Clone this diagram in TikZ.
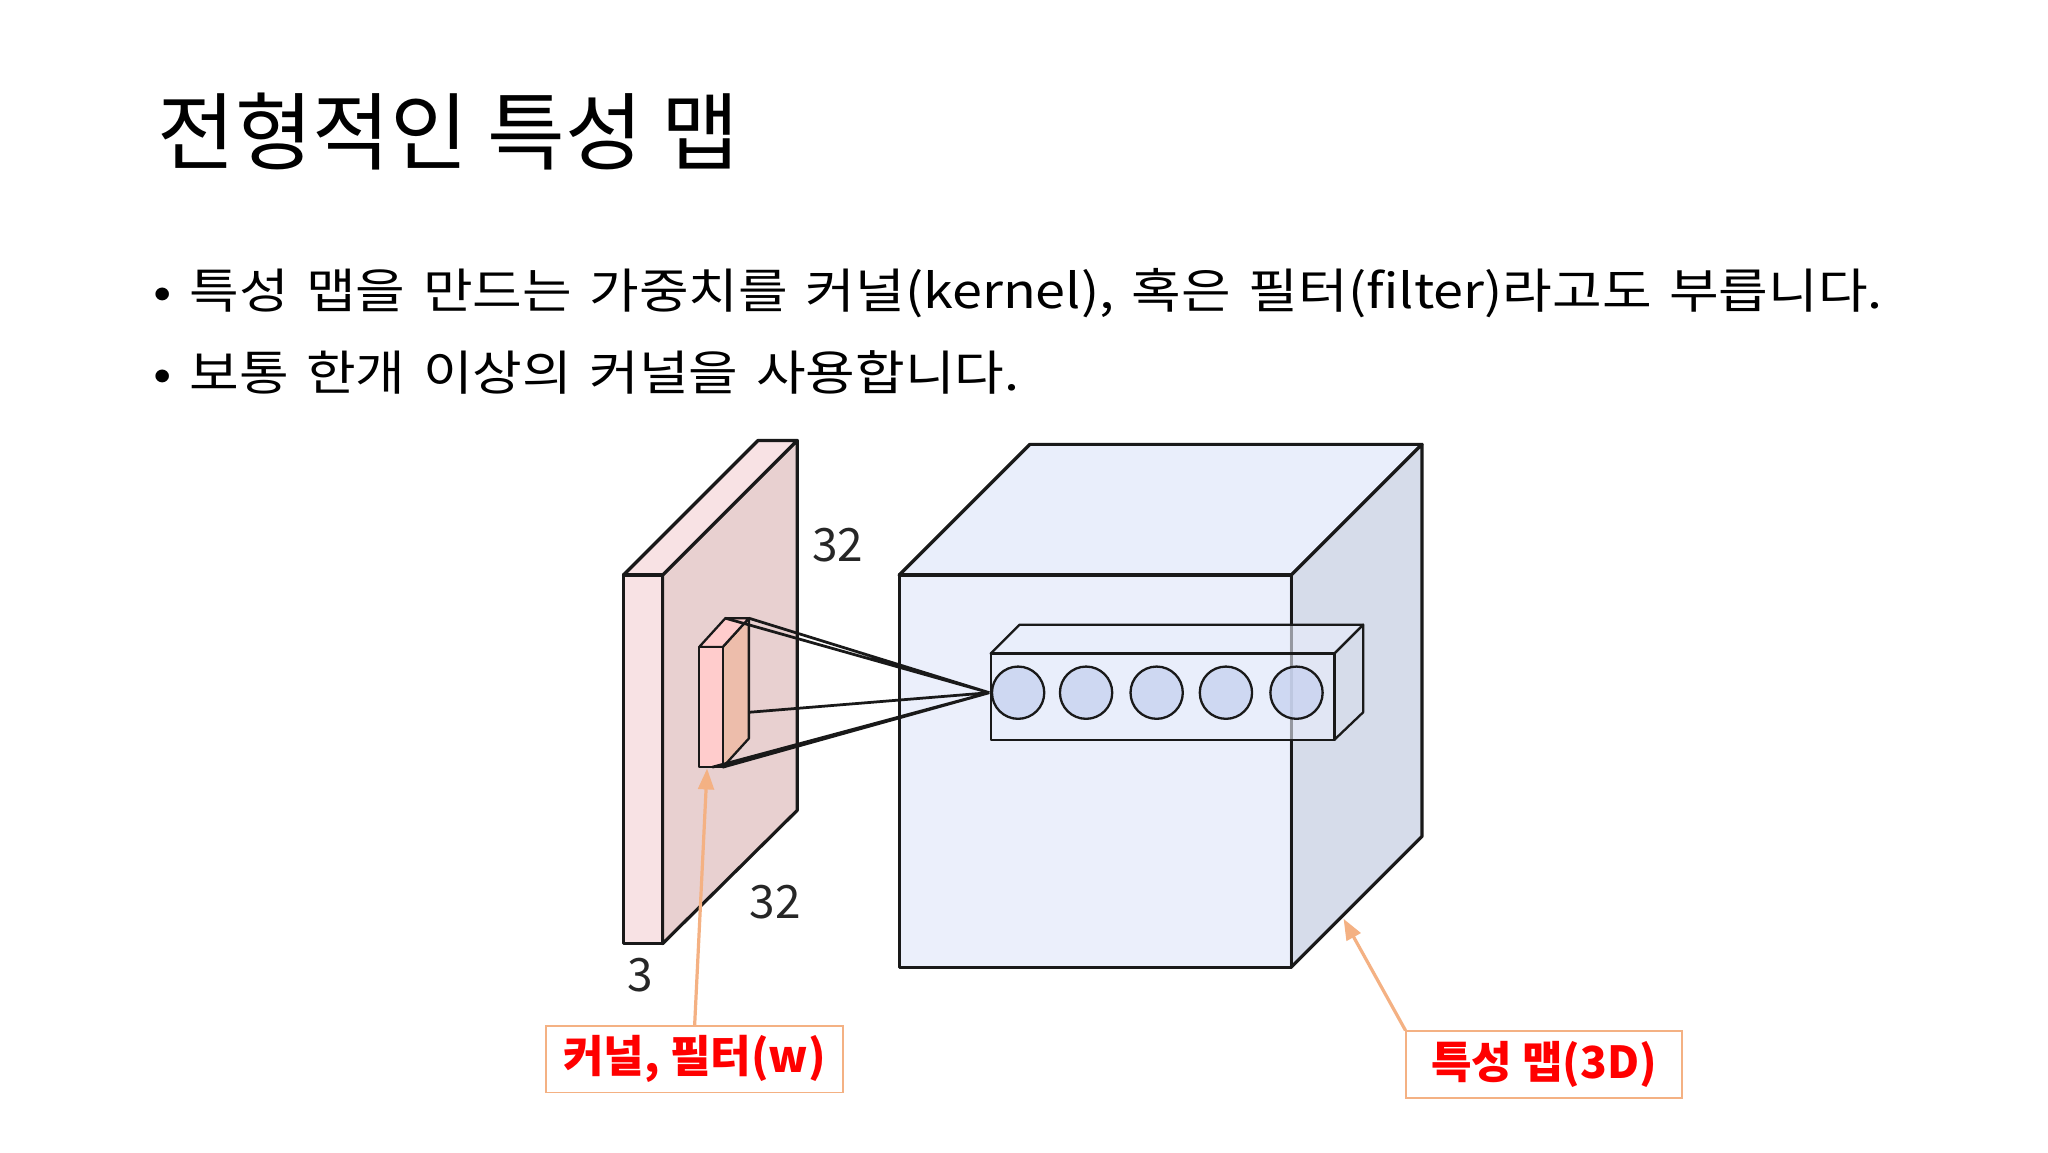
\documentclass[tikz,border=0pt]{standalone}
\usepackage{fontspec}
\setmainfont{Noto Sans CJK KR}
\newfontfamily\widefont[FakeStretch=1.13,WordSpace={1.45}]{Noto Sans CJK KR}
\usetikzlibrary{arrows.meta}
\definecolor{orng}{HTML}{F4B183}
\definecolor{cfront}{HTML}{E9EEFB}
\definecolor{cside}{HTML}{D6DCEA}
\definecolor{ccirc}{HTML}{C8D3F0}
\definecolor{sfront}{HTML}{F8E2E4}
\definecolor{sside}{HTML}{E8D0D0}
\tikzset{
 lbl/.style={draw=orng,line width=1.8pt,text=red,font=\fontsize{48}{48}\selectfont\bfseries,inner sep=0pt,minimum height=25.5mm},
 num/.style={font=\fontsize{50}{50}\selectfont,text=black!85},
 arr/.style={draw=orng,line width=3.5pt,-{Triangle[length=8mm,width=6mm]}},
 edge/.style={draw=black!90,line width=3.5pt,line join=round},
 ray/.style={draw=black!90,line width=3pt}
}
\begin{document}
\begin{tikzpicture}[x=0.5mm,y=-0.5mm]
\useasboundingbox[fill=white] (0,0) rectangle (1567,881.5);
\node[anchor=base west,font=\fontsize{92}{92}\selectfont] (title) at (118,125) {전형적인 특성 맵};
\node[anchor=base west,font=\fontsize{52}{52}\selectfont\widefont] (b1) at (115,236) {• 특성 맵을 만드는 가중치를 커널(kernel), 혹은 필터(filter)라고도 부릅니다.};
\node[anchor=base west,font=\fontsize{52}{52}\selectfont\widefont] (b2) at (115,299) {• 보통 한개 이상의 커널을 사용합니다.};
% left slab
\filldraw[edge,fill=sside] (507,440)--(610,337)--(610,620)--(507,722)--cycle;
\filldraw[edge,fill=sfront] (477,440)--(507,440)--(610,337)--(580,337)--cycle;
\filldraw[edge,fill=sfront] (477,440) rectangle (507,722);
% kernel
\filldraw[edge,line width=2.5pt,fill=red!30!brown!40!white] (553,495)--(573,473)--(573,565)--(553,587)--cycle;
\filldraw[edge,line width=2.5pt,fill=red!20!white] (535,495)--(553,495)--(573,473)--(555,473)--cycle;
\filldraw[edge,line width=2.5pt,fill=red!20!white] (535,495) rectangle (553,587);
% cube
\filldraw[edge,fill=cfront] (688,440)--(788,340)--(1088,340)--(988,440)--cycle;
\filldraw[edge,fill=cside] (988,440)--(1088,340)--(1088,640)--(988,740)--cycle;
\filldraw[edge,fill=cfront,fill opacity=0.9] (688,440) rectangle (988,740);
% rays
\coordinate (p) at (757,530);
\draw[ray] (555,473)--(p) (573,473)--(p) (573,545)--(p) (553,587)--(p) (545,587)--(p);
% bar
\filldraw[edge,line width=2.5pt,fill=cfront,fill opacity=0.6] (758,500)--(780,478)--(1043,478)--(1021,500)--cycle;
\filldraw[edge,line width=2.5pt,fill=cside,fill opacity=0.6] (1021,500)--(1043,478)--(1043,545)--(1021,566)--cycle;
\filldraw[edge,line width=2.5pt,fill=cfront,fill opacity=0.6] (758,500) rectangle (1021,566);
\foreach \x in {779,831,885,938,992}
  \filldraw[edge,line width=2.5pt,fill=ccirc,fill opacity=0.8] (\x,530) circle (20);
% numbers
\node[num] (n1) at (641,417) {32};
\node[num] (n2) at (593,690) {32};
\node[num] (n3) at (490,746) {3};
% labels
\node[lbl,minimum width=113.5mm] (k) at (531.5,810.5) {커널, 필터(w)};
\node[lbl,minimum width=105.5mm] (f) at (1181.5,814.5) {특성 맵(3D)};
\coordinate (kt) at (541,588);
\coordinate (ft) at (1028,703);
\draw[arr] (k.north) -- (kt);
\draw[arr] (f.north west) -- (ft);
\end{tikzpicture}
\end{document}
